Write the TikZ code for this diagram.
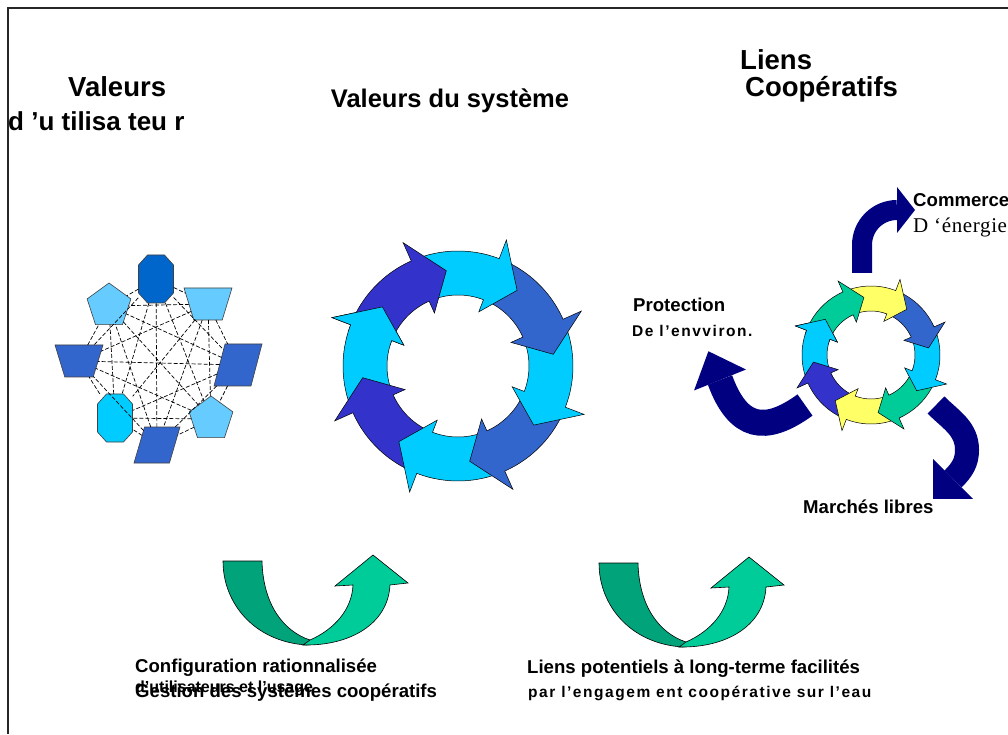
\documentclass[tikz,border=0pt]{standalone}
\usepackage{fontspec}
\setmainfont{Liberation Sans}
\newfontfamily\spacedsans{Liberation Sans}[LetterSpace=10]
\newfontfamily\spacedserif{Liberation Serif}[LetterSpace=3]
\usetikzlibrary{shapes.geometric}

\definecolor{deepblue}{HTML}{0066CC}
\definecolor{paleblue}{HTML}{66CCFF}
\definecolor{midblue}{HTML}{3366CC}
\definecolor{skyblue}{HTML}{00CCFF}
\definecolor{indigo}{HTML}{3333CC}
\definecolor{seagreen}{HTML}{00CC99}
\definecolor{darkgreen}{HTML}{00A37A}
\definecolor{paleyellow}{HTML}{FFFF66}
\definecolor{navyb}{HTML}{000080}

\tikzset{
tile/.style={draw=black!75, line width=0.6pt, inner sep=1pt, outer sep=0pt},
octa/.style={rectangle, inner sep=0pt, minimum width=35pt, minimum height=48pt},
penta/.style={tile, regular polygon, regular polygon sides=5, minimum size=46pt},
trap/.style={tile, trapezium, trapezium stretches=true, shape border rotate=180, trapezium left angle=71, trapezium right angle=71, minimum width=48pt, minimum height=32pt},
para/.style={tile, trapezium, trapezium stretches=true, trapezium left angle=67, trapezium right angle=113, minimum width=48pt, minimum height=42pt},
link/.style={dash pattern=on 4pt off 2pt, line width=0.7pt},
ringline/.style={draw=black, line width=0.5pt},
ribbon/.style={draw=black, line width=0.6pt},
navyarrow/.style={draw=navyb, line width=#1},
}

% octagon drawn round a node: node, colour
\newcommand{\octagon}[2]{%
  \filldraw[fill=#2, draw=black!75, line width=0.6pt]
    ([shift={(-8.5,24)}]#1.center) -- ([shift={(8.5,24)}]#1.center)
    -- ([shift={(17.5,14)}]#1.center) -- ([shift={(17.5,-14)}]#1.center)
    -- ([shift={(8.5,-24)}]#1.center) -- ([shift={(-8.5,-24)}]#1.center)
    -- ([shift={(-17.5,-14)}]#1.center) -- ([shift={(-17.5,14)}]#1.center) -- cycle;}

% one arrow of a ring: start angle, end angle, colour
\newcommand{\ringarrow}[3]{%
  \filldraw[fill=#3, ringline] (#1:\ringR) arc[start angle=#1, end angle=#2, radius=\ringR]
    -- (#2:{\ringR+\ringe}) -- ({#2-\ringh}:\ringm) -- (#2:{\ringr-\ringi}) -- (#2:\ringr)
    arc[start angle=#2, end angle=#1, radius=\ringr] -- cycle;}
% head of the last arrow again, over the first one
\newcommand{\ringhead}[2]{%
  \fill[#2] ({#1+4}:\ringR) arc[start angle={#1+4}, end angle=#1, radius=\ringR]
    -- (#1:{\ringR+\ringe}) -- ({#1-\ringh}:\ringm) -- (#1:{\ringr-\ringi}) -- (#1:\ringr)
    arc[start angle=#1, end angle={#1+4}, radius=\ringr] -- cycle;
  \draw[ringline] ({#1+4}:\ringR) arc[start angle={#1+4}, end angle=#1, radius=\ringR]
    -- (#1:{\ringR+\ringe}) -- ({#1-\ringh}:\ringm) -- (#1:{\ringr-\ringi}) -- (#1:\ringr)
    arc[start angle=#1, end angle={#1+4}, radius=\ringr];}

% green twisted arrow
\newcommand{\uturnarrow}{%
  \filldraw[fill=darkgreen, ribbon] (223,173) -- (262,173)
    .. controls (263,130) and (283,103) .. (310,94) -- (307,89)
    .. controls (255,92) and (223,130) .. cycle;
  \filldraw[fill=seagreen, ribbon] (310,94) .. controls (335,105) and (352,125) .. (353,149)
    -- (335,148) -- (373,179) -- (408,151) -- (390,149)
    .. controls (388,110) and (350,88) .. (303,89) -- cycle;}

\begin{document}
\begin{tikzpicture}
    [x=1pt, y=1pt,
    title/.style={anchor=base west, inner sep=0pt, font=\fontsize{27.5}{30}\selectfont\bfseries},
    lbl/.style={anchor=base west, inner sep=0pt, font=\fontsize{18.6}{21}\selectfont\bfseries},
    spaced/.style={anchor=base west, inner sep=0pt, font=\spacedsans\fontsize{15.5}{18}\selectfont\bfseries}
    ]
    \useasboundingbox (0,0) rectangle (1008,734);
    \fill[white] (0,0) rectangle (1008,734);
    \draw[line width=2pt, black!85] (8,0) -- (8,726) -- (1008,726);

    % titles
    \node [title] (valeurs) at (68,637) {Valeurs};
    \node [title, font=\fontsize{26}{30}\selectfont\bfseries] (utilisateur) at (8,603) {d ’u tilisa teu r};
    \node [title, anchor=base, font=\fontsize{25.5}{30}\selectfont\bfseries] (systeme) at (450,626) {Valeurs du système};
    \node [title] (liens) at (740,664) {Liens};
    \node [title] (coop) at (745,637) {Coopératifs};

    % user values
    \node [octa] (u1) at (156,455) {};
    \node [trap, fill=paleblue] (u2) at (208,430) {};
    \node [para, fill=midblue] (u3) at (238,369) {};
    \node [penta, fill=paleblue] (u4) at (211,315) {};
    \node [para, fill=midblue, minimum height=36pt, minimum width=46pt] (u5) at (157,289) {};
    \node [octa] (u6) at (115,316) {};
    \node [trap, fill=midblue] (u7) at (79,373) {};
    \node [penta, fill=paleblue] (u8) at (109,428) {};
    \octagon{u1}{deepblue}
    \octagon{u6}{skyblue}

    \foreach \i [evaluate=\i as \k using int(\i+1)] in {1,...,7}
        \foreach \j in {\k,...,8}
            \draw[link] (u\i) -- (u\j);

    % system values
    \begin{scope}[shift={(458,368)}]
        \def\ringR{115}\def\ringr{71}\def\ringe{20}\def\ringi{13}\def\ringh{17}\def\ringm{96}
        \foreach \a/\b/\c in {-156/-201/skyblue, -111/-156/indigo, -66/-111/skyblue,
                -21/-66/midblue, 24/-21/skyblue, 69/24/midblue, 114/69/skyblue, 159/114/indigo}
            \ringarrow{\a}{\b}{\c};
        \ringhead{-201}{skyblue}
    \end{scope}

    % cooperative links
    \coordinate (ca) at (862,461);
    \coordinate (cb) at (862,489);
    \coordinate (cc) at (897,524);
    \coordinate (pa) at (805,329);
    \coordinate (pb) at (720,354);
    \coordinate (ma) at (936,329);
    \coordinate (mm) at (967,284);
    \coordinate (mb) at (953,255);

    \draw[navyarrow=20pt] (ca) -- (cb) to[out=90, in=180] (cc);
    \fill[navyb, shift={(cc)}] (0,-23) -- (18,0) -- (0,23) -- cycle;
    \draw[navyarrow=26pt] (pa) .. controls (765,300) and (738,305) .. (pb);
    \fill[navyb, shift={(pb)}, rotate=112] (0,-28) -- (31,0) -- (0,28) -- cycle;
    \draw[navyarrow=24pt] (ma) to[out=-45, in=90] (mm) to[out=-90, in=45] (mb);
    \fill[navyb, shift={(mb)}, rotate=-135] (0,-28) -- (28,0) -- (0,28) -- cycle;

    \begin{scope}[shift={(871,379)}]
        \def\ringR{69}\def\ringr{44}\def\ringe{12}\def\ringi{8}\def\ringh{17}\def\ringm{58}
        \foreach \a/\b/\c in {-156/-201/skyblue, -111/-156/indigo, -66/-111/paleyellow,
                -21/-66/seagreen, 24/-21/skyblue, 69/24/midblue, 114/69/paleyellow, 159/114/seagreen}
            \ringarrow{\a}{\b}{\c};
        \ringhead{-201}{skyblue}
    \end{scope}

    \node [lbl] (commerce) at (913,527) {Commerce};
    \node [anchor=base west, inner sep=0pt, font=\spacedserif\fontsize{21}{23}\selectfont] (energie) at (913,501) {D ‘énergie};
    \node [lbl] (protection) at (633,422) {Protection};
    \node [spaced] (environ) at (632,397) {De l’envviron.};
    \node [lbl] (marches) at (803,221) {Marchés libres};

    % bottom
    \uturnarrow
    \begin{scope}[shift={(376,-2)}]
        \uturnarrow
    \end{scope}

    \node [lbl] (config) at (135,62) {Configuration rationnalisée};
    \node [lbl, font=\fontsize{16}{18}\selectfont\bfseries] (usage) at (135,42) {d’utilisateurs et l’usage};
    \node [lbl] (gestion) at (135,37) {Gestion des systèmes coopératifs};
    \node [lbl] (potentiels) at (527,61) {Liens potentiels à long-terme facilités};
    \node [spaced] (engagement) at (528,37) {par l’engagem ent coopérative sur l’eau};
\end{tikzpicture}
\end{document}
